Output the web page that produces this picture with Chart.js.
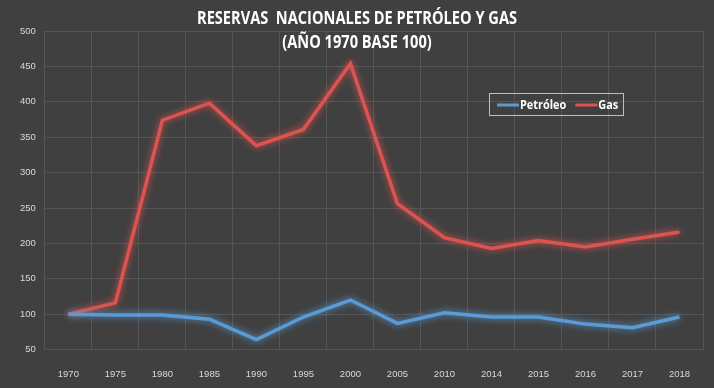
<!DOCTYPE html>
<html>
<head>
<meta charset="utf-8">
<script src="https://cdn.jsdelivr.net/npm/chart.js@4.4.0/dist/chart.umd.min.js"></script>
<style>
  html, body { margin: 0; padding: 0; background: #404040; overflow: hidden; }
  #wrap { width: 714px; height: 388px; }
</style>
</head>
<body>
<div id="wrap"><canvas id="reservasChart"></canvas></div>
<script>
// Data
var years = ['1970', '1975', '1980', '1985', '1990', '1995', '2000', '2005', '2010', '2014', '2015', '2016', '2017', '2018'];
var petroleo = [100, 99, 99, 93, 64, 96, 120, 87, 102, 96, 96, 86, 81, 96];
var gas = [100, 116, 374, 398, 338, 361, 454, 256, 208, 193, 204, 195, 206, 216];
var titleLines = ['RESERVAS  NACIONALES DE PETRÓLEO Y GAS', '(AÑO 1970 BASE 100)'];

var FONT = '"Open Sans", sans-serif';
var TICK_FONT = '"Liberation Sans", sans-serif';

// draw text squeezed horizontally (the original uses a narrow font)
function fillNarrow(ctx, text, x, y, sx, align) {
  var w = ctx.measureText(text).width * sx;
  var left = align === 'center' ? x - w / 2 : x;
  ctx.save();
  ctx.textAlign = 'left';
  ctx.translate(left, y);
  ctx.scale(sx, 1);
  ctx.fillText(text, 0, 0);
  ctx.restore();
  return w;
}

// glow around the lines
var glowPlugin = {
  id: 'glow',
  beforeDatasetDraw: function(chart, args) {
    var ctx = chart.ctx;
    ctx.save();
    ctx.shadowColor = chart.data.datasets[args.index].borderColor;
    ctx.shadowBlur = 7;
  },
  afterDatasetDraw: function(chart) {
    chart.ctx.restore();
  }
};

// title and floating legend drawn on top
var overlayPlugin = {
  id: 'overlay',
  afterDraw: function(chart) {
    var ctx = chart.ctx;
    ctx.save();
    ctx.fillStyle = '#ffffff';
    ctx.textBaseline = 'middle';
    ctx.font = 'bold 17px ' + FONT;
    var sx = 320 / ctx.measureText(titleLines[0]).width;
    fillNarrow(ctx, titleLines[0], 357, 19, sx, 'center');
    fillNarrow(ctx, titleLines[1], 357, 43, sx, 'center');

    // legend box
    var bx = 489, by = 93, bw = 134, bh = 22;
    ctx.strokeStyle = '#bfbfbf';
    ctx.lineWidth = 1;
    ctx.strokeRect(bx + 0.5, by + 0.5, bw, bh);
    ctx.font = 'bold 13px ' + FONT;
    var x = bx + 8;
    var cy = by + bh / 2 + 1;
    chart.data.datasets.forEach(function(ds) {
      ctx.strokeStyle = ds.borderColor;
      ctx.lineWidth = 3;
      ctx.beginPath();
      ctx.moveTo(x, cy);
      ctx.lineTo(x + 22, cy);
      ctx.stroke();
      ctx.fillStyle = '#ffffff';
      var w = fillNarrow(ctx, ds.label, x + 23, cy, 0.84, 'left');
      x += 23 + w + 9;
    });
    ctx.restore();
  }
};

var ctx = document.getElementById('reservasChart').getContext('2d');
var reservasChart = new Chart(ctx, {
  type: 'line',
  data: {
    labels: years,
    datasets: [{
      label: 'Petróleo',
      data: petroleo,
      borderColor: '#5b9bd5',
      borderWidth: 3.5,
      pointRadius: 0,
      tension: 0,
      fill: false
    }, {
      label: 'Gas',
      data: gas,
      borderColor: '#dc5350',
      borderWidth: 3.5,
      pointRadius: 0,
      tension: 0,
      fill: false
    }]
  },
  options: {
    responsive: true,
    maintainAspectRatio: false,
    animation: false,
    layout: { padding: { top: 31, right: 11, left: 11, bottom: -11 } },
    plugins: {
      legend: { display: false },
      title: { display: false },
      tooltip: { enabled: false }
    },
    scales: {
      x: {
        offset: true,
        grid: { color: '#555555', offset: true, drawTicks: false },
        border: { color: '#555555' },
        ticks: { color: '#d9d9d9', font: { family: TICK_FONT, size: 9.5 }, padding: 19, maxRotation: 0, autoSkip: false }
      },
      y: {
        min: 50,
        max: 500,
        grid: { color: '#555555', drawTicks: false },
        border: { display: false },
        ticks: { stepSize: 50, color: '#d9d9d9', font: { family: TICK_FONT, size: 9.5 }, padding: 9 }
      }
    }
  },
  plugins: [glowPlugin, overlayPlugin]
});
</script>
</body>
</html>
